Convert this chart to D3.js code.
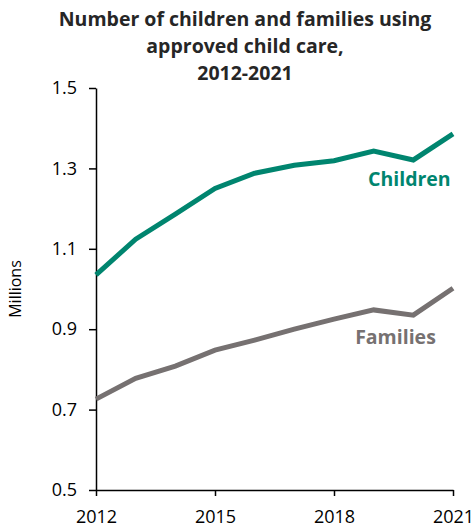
<!DOCTYPE html>
<meta charset='utf-8'>
<head>
  <style>
    body { margin: 0; background: #fff; }
    .axis path, .axis line { fill: none; stroke: #000; stroke-width: 1.5px; }
    .axis text { font: 18px 'Open Sans', sans-serif; fill: #000; }
  </style>
</head>
<body>
<script src='https://d3js.org/d3.v7.min.js'></script>
<script>

var years = [2012, 2013, 2014, 2015, 2016, 2017, 2018, 2019, 2020, 2021];
var children = [1.035, 1.124, 1.186, 1.250, 1.288, 1.308, 1.319, 1.343, 1.321, 1.386];
var families = [0.726, 0.778, 0.808, 0.848, 0.873, 0.900, 0.925, 0.948, 0.935, 1.002];
var yTicks = [0.5, 0.7, 0.9, 1.1, 1.3, 1.5];
var xTicks = [2012, 2015, 2018, 2021];
var titleLines = ['Number of children and families using', 'approved child care,', '2012-2021'];

var W = 474, H = 530;
var margin = {top: 88, right: 21, bottom: 40, left: 96};
var width = W - margin.left - margin.right,
    height = H - margin.top - margin.bottom;

var x = d3.scaleLinear().domain([2012, 2021]).range([0, width]);
var y = d3.scaleLinear().domain([0.5, 1.5]).range([height, 0]);

var svg = d3.select('body').append('svg')
    .attr('width', W)
    .attr('height', H);

svg.append('g').selectAll('text')
    .data(titleLines)
  .enter().append('text')
    .attr('x', 245)
    .attr('y', (d, i) => 26 + i * 27)
    .attr('text-anchor', 'middle')
    .style('font', 'bold 19.5px "Open Sans", sans-serif')
    .style('fill', '#262626')
    .text(d => d);

var g = svg.append('g')
    .attr('transform', 'translate(' + margin.left + ',' + margin.top + ')');

g.append('g')
    .attr('class', 'axis')
    .call(d3.axisLeft(y).tickValues(yTicks).tickFormat(d3.format('.1f')).tickSize(7).tickSizeOuter(0).tickPadding(12));

g.append('g')
    .attr('class', 'axis')
    .attr('transform', 'translate(0,' + height + ')')
    .call(d3.axisBottom(x).tickValues(xTicks).tickFormat(d3.format('d')).tickSize(6).tickSizeOuter(0).tickPadding(14));

svg.append('text')
    .attr('transform', 'translate(21,' + (margin.top + y(1.0)) + ') rotate(-90)')
    .attr('text-anchor', 'middle')
    .style('font', '16px "Open Sans", sans-serif')
    .text('Millions');

var line = d3.line()
    .x((d, i) => x(years[i]))
    .y(d => y(d));

g.append('path')
    .datum(families)
    .attr('d', line)
    .style('fill', 'none')
    .style('stroke', '#767171')
    .style('stroke-width', 5);

g.append('path')
    .datum(children)
    .attr('d', line)
    .style('fill', 'none')
    .style('stroke', '#00856f')
    .style('stroke-width', 5);

g.append('text')
    .attr('x', x(2019.9))
    .attr('y', y(1.3) + 18)
    .attr('text-anchor', 'middle')
    .style('font', 'bold 19.5px "Open Sans", sans-serif')
    .style('fill', '#00856f')
    .text('Children');

g.append('text')
    .attr('x', x(2019.55))
    .attr('y', y(0.9) + 15)
    .attr('text-anchor', 'middle')
    .style('font', 'bold 19.5px "Open Sans", sans-serif')
    .style('fill', '#767171')
    .text('Families');

</script>
</body>
